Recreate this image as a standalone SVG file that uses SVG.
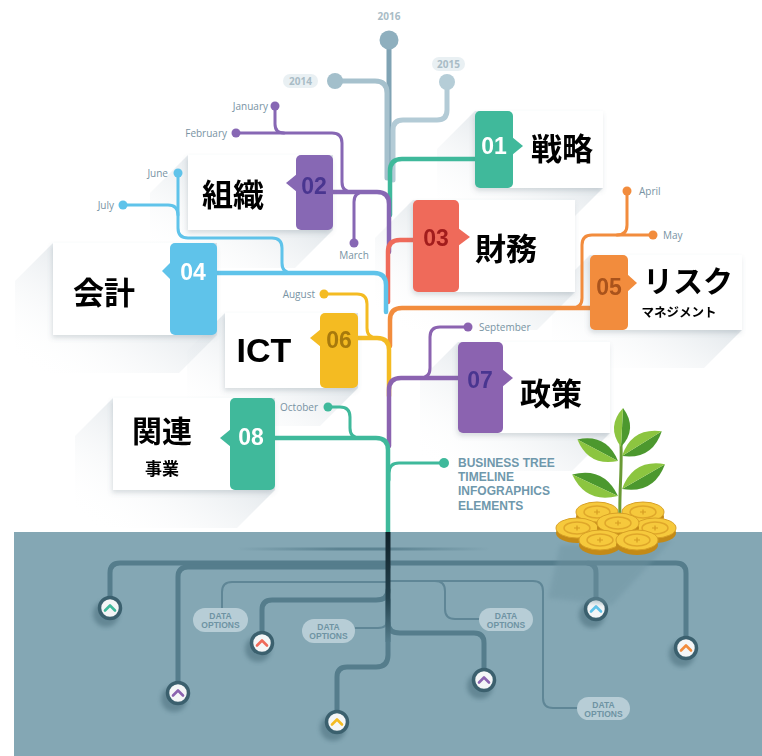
<svg xmlns="http://www.w3.org/2000/svg" width="762" height="756" viewBox="0 0 762 756">
  <defs>
    <style>
      .br{fill:none;stroke-width:4.5;stroke-linecap:round;stroke-linejoin:round}
      .tw{fill:none;stroke-width:3;stroke-linecap:round;stroke-linejoin:round}
      .yr{fill:none;stroke-width:5;stroke-linecap:round;stroke-linejoin:round}
      .mo{font-family:"Open Sans","Liberation Sans",sans-serif;font-size:10px;fill:#7893a3}
      .yl{font-family:"Open Sans","Liberation Sans",sans-serif;font-size:10px;font-weight:700;fill:#a9bcc6;text-anchor:middle}
      .num{font-family:"Liberation Sans",sans-serif;font-size:23px;font-weight:700;text-anchor:middle}
      .jp{font-family:"Noto Sans CJK JP","Noto Sans CJK SC",sans-serif;font-weight:700;fill:#000;text-anchor:middle}
      .card{fill:#fff}
      .shade{fill:url(#cardShade)}
      .rt{fill:none;stroke:#557d8c;stroke-width:5;stroke-linecap:round;stroke-linejoin:round}
      .rtt{fill:none;stroke:#5f8696;stroke-width:2}
      .pill{fill:#b7cdd6}
      .pt{font-family:"Liberation Sans",sans-serif;font-size:8.5px;font-weight:700;fill:#6e93a3;text-anchor:middle}
      .knob{fill:#f4f6f7;stroke:#3b606e;stroke-width:3.5}
      .kshadow{fill:#3e6270;opacity:.45;filter:url(#soft)}
      .chev{fill:none;stroke-width:2.6;stroke-linecap:round;stroke-linejoin:round}
      .bt{font-family:"Liberation Sans",sans-serif;font-size:12px;font-weight:700;fill:#6f98ac}
    </style>
    <linearGradient id="cardShade" x1="0.7" y1="0.3" x2="0.05" y2="0.95">
      <stop offset="0" stop-color="#ccd5dc" stop-opacity="0.65"/>
      <stop offset="1" stop-color="#ffffff" stop-opacity="0"/>
    </linearGradient>
    <linearGradient id="deepTrunk" x1="0" y1="0" x2="0" y2="1">
      <stop offset="0" stop-color="#0f2028"/>
      <stop offset="0.6" stop-color="#24434f"/>
      <stop offset="1" stop-color="#557d8c"/>
    </linearGradient>
    <linearGradient id="fadeLine" x1="0" y1="0" x2="1" y2="0">
      <stop offset="0" stop-color="#587f8e" stop-opacity="0"/>
      <stop offset="0.4" stop-color="#587f8e" stop-opacity="0.9"/>
      <stop offset="0.6" stop-color="#587f8e" stop-opacity="0.9"/>
      <stop offset="1" stop-color="#587f8e" stop-opacity="0"/>
    </linearGradient>
    <filter id="soft" x="-50%" y="-50%" width="200%" height="200%">
      <feGaussianBlur stdDeviation="2"/>
    </filter>
    <filter id="lift" x="-20%" y="-20%" width="140%" height="150%">
      <feDropShadow dx="-1" dy="3" stdDeviation="2.5" flood-color="#5a6e7a" flood-opacity="0.22"/>
    </filter>
    <g id="leaf">
      <path d="M0,0 Q23,19 46,0 Z" fill="#4c982e"/>
      <path d="M0,0 Q23,-19 46,0 Z" fill="#8cc540"/>
    </g>
    <g id="coin">
      <ellipse cx="0" cy="5" rx="21" ry="10" fill="#c38a17"/>
      <ellipse cx="0" cy="0" rx="21" ry="10" fill="#f6c93c" stroke="#d8a126" stroke-width="1"/>
      <ellipse cx="0" cy="0" rx="13" ry="6" fill="none" stroke="#dfa72a" stroke-width="1.4"/>
      <path d="M-3,0 H3 M0,-2.5 V2.5" stroke="#d69d22" stroke-width="1.2"/>
    </g>
  </defs>

  <!-- page and ground -->
  <rect width="762" height="756" fill="#ffffff"/>
  <rect x="14" y="532" width="748" height="224" fill="#84a7b4"/>

  <!-- long card shadows -->
  <g id="shadows">
    <polygon class="shade" points="475,111 603,111 603,188 565,226 437,226 437,149"/>
    <polygon class="shade" points="188,155 333,155 333,230 295,268 150,268 150,193"/>
    <polygon class="shade" points="413,200 575,200 575,292 537,330 375,330 375,238"/>
    <polygon class="shade" points="53,243 217,243 217,335 179,373 15,373 15,281"/>
    <polygon class="shade" points="590,255 742,255 742,330 704,368 552,368 552,293"/>
    <polygon class="shade" points="225,313 358,313 358,388 320,426 187,426 187,351"/>
    <polygon class="shade" points="458,342 610,342 610,433 572,471 420,471 420,380"/>
    <polygon class="shade" points="113,398 275,398 275,490 237,528 75,528 75,436"/>
  </g>

  <!-- tree connectors -->
  <g id="connectors">
    <!-- years -->
    <path class="yr" stroke="#80a3b4" d="M389,40 V178"/>
    <path class="yr" stroke="#a6c1cd" d="M335,81 H375 Q387,81 387,93 V178"/>
    <path class="yr" stroke="#b3cbd6" d="M447,82 V110 Q447,120 437,120 H403 Q393,120 393,130 V180"/>
    <!-- 01 -->
    <path class="br" stroke="#3fb99b" d="M476,159 H402 Q390,159 390,171 V215"/>
    <!-- 02 and its months -->
    <path class="tw" stroke="#8767b4" d="M236,133 H332 Q342,133 342,143 V182 Q342,192 352,192"/>
    <path class="tw" stroke="#8767b4" d="M275,106 V124 Q275,133 284,133"/>
    <path class="tw" stroke="#8767b4" d="M354,243 V202 Q354,192 364,192"/>
    <path class="br" stroke="#8767b4" d="M333,192 H377 Q389,192 389,204 V252"/>
    <!-- 03 -->
    <path class="br" stroke="#ef6a5a" d="M413,240 H400 Q388,240 388,252 V302"/>
    <!-- 04 and its months -->
    <path class="tw" stroke="#5fc3ea" d="M178,173 V228 Q178,238 188,238 H272 Q282,238 282,248 V263 Q282,273 292,273"/>
    <path class="tw" stroke="#5fc3ea" d="M123,205 H168 Q178,205 178,215"/>
    <path class="br" stroke="#5fc3ea" d="M217,273 H374 Q386,273 386,285 V312"/>
    <!-- 05 and its months -->
    <path class="tw" stroke="#f28c3d" d="M653,235 H592 Q582,235 582,245 V298 Q582,308 572,308"/>
    <path class="tw" stroke="#f28c3d" d="M627,191 V225 Q627,235 617,235"/>
    <path class="br" stroke="#f28c3d" d="M590,308 H402 Q390,308 390,320 V346"/>
    <!-- 06 and its month -->
    <path class="tw" stroke="#f4bb22" d="M324,294 H357 Q367,294 367,304 V328 Q367,338 377,338"/>
    <path class="br" stroke="#f4bb22" d="M358,338 H377 Q389,338 389,350 V396"/>
    <!-- 07 and its month -->
    <path class="tw" stroke="#8b63b0" d="M468,327 H440 Q430,327 430,337 V368 Q430,378 420,378"/>
    <path class="br" stroke="#8b63b0" d="M458,378 H401 Q389,378 389,390 V446"/>
    <!-- 08 and its month -->
    <path class="tw" stroke="#3fb99b" d="M328,407 H340 Q350,407 350,417 V428 Q350,438 360,438"/>
    <path class="br" stroke="#3fb99b" d="M275,438 H376 Q388,438 388,450 V533"/>
    <path class="tw" stroke="#3fb99b" d="M389,480 V473 Q389,463 399,463 H444"/>

    <!-- month / year end dots -->
    <circle cx="389" cy="40" r="9.5" fill="#8eafbe"/>
    <circle cx="335" cy="81" r="8" fill="#a3bfcb"/>
    <circle cx="447" cy="82" r="8" fill="#b5cdd7"/>
    <g fill="#8767b4">
      <circle cx="275" cy="106" r="4.5"/>
      <circle cx="236" cy="133" r="4.5"/>
      <circle cx="354" cy="243" r="4.5"/>
    </g>
    <g fill="#5fc3ea">
      <circle cx="178" cy="173" r="4.5"/>
      <circle cx="123" cy="205" r="4.5"/>
    </g>
    <g fill="#f28c3d">
      <circle cx="627" cy="191" r="4.5"/>
      <circle cx="653" cy="235" r="4.5"/>
    </g>
    <circle cx="324" cy="294" r="4.5" fill="#f4bb22"/>
    <circle cx="468" cy="327" r="4.5" fill="#8b63b0"/>
    <circle cx="328" cy="407" r="4.5" fill="#3fb99b"/>
    <circle cx="444" cy="463" r="5" fill="#3fb99b"/>
  </g>

  <!-- year and month labels -->
  <g id="labels">
    <text class="yl" x="389" y="16" dominant-baseline="central">2016</text>
    <rect x="283" y="74" width="35" height="14" rx="7" fill="#e9f0f3"/>
    <text class="yl" x="300.5" y="81" dominant-baseline="central">2014</text>
    <rect x="432" y="57" width="33" height="14" rx="7" fill="#e9f0f3"/>
    <text class="yl" x="448.5" y="64" dominant-baseline="central">2015</text>
    <text class="mo" x="268" y="106" text-anchor="end" dominant-baseline="central">January</text>
    <text class="mo" x="227" y="133" text-anchor="end" dominant-baseline="central">February</text>
    <text class="mo" x="354" y="255" text-anchor="middle" dominant-baseline="central">March</text>
    <text class="mo" x="639" y="191" dominant-baseline="central">April</text>
    <text class="mo" x="663" y="235" dominant-baseline="central">May</text>
    <text class="mo" x="168" y="173" text-anchor="end" dominant-baseline="central">June</text>
    <text class="mo" x="114" y="205" text-anchor="end" dominant-baseline="central">July</text>
    <text class="mo" x="315" y="294" text-anchor="end" dominant-baseline="central">August</text>
    <text class="mo" x="479" y="327" dominant-baseline="central">September</text>
    <text class="mo" x="318" y="407" text-anchor="end" dominant-baseline="central">October</text>
    <text class="bt" x="458" y="463" dominant-baseline="central">BUSINESS TREE</text>
    <text class="bt" x="458" y="477" dominant-baseline="central">TIMELINE</text>
    <text class="bt" x="458" y="491" dominant-baseline="central">INFOGRAPHICS</text>
    <text class="bt" x="458" y="506" dominant-baseline="central">ELEMENTS</text>
  </g>

  <!-- cards -->
  <g id="node-01" filter="url(#lift)">
    <rect class="card" x="505" y="111" width="98" height="77"/>
    <rect x="475" y="111" width="38" height="77" rx="5" fill="#3fb99b"/>
    <polygon points="512,137 523,146 512,155" fill="#3fb99b"/>
    <text class="num" x="494" y="146" fill="#ffffff" dominant-baseline="central">01</text>
    <text class="jp" x="562" y="146" font-size="31" dominant-baseline="central">戦略</text>
  </g>
  <g id="node-02" filter="url(#lift)">
    <rect class="card" x="188" y="155" width="116" height="75"/>
    <rect x="296" y="155" width="37" height="75" rx="5" fill="#8767b4"/>
    <polygon points="297,174 286,183 297,192" fill="#8767b4"/>
    <text class="num" x="314" y="186" fill="#4a3690" dominant-baseline="central">02</text>
    <text class="jp" x="233" y="192" font-size="31" dominant-baseline="central">組織</text>
  </g>
  <g id="node-03" filter="url(#lift)">
    <rect class="card" x="450" y="200" width="125" height="92"/>
    <rect x="413" y="200" width="46" height="92" rx="5" fill="#ef6a5a"/>
    <polygon points="458,228 470,237 458,246" fill="#ef6a5a"/>
    <text class="num" x="436" y="238" fill="#a21e1e" dominant-baseline="central">03</text>
    <text class="jp" x="506" y="246" font-size="31" dominant-baseline="central">財務</text>
  </g>
  <g id="node-04" filter="url(#lift)">
    <rect class="card" x="53" y="243" width="126" height="92"/>
    <rect x="170" y="243" width="47" height="92" rx="5" fill="#5fc3ea"/>
    <polygon points="171,262 162,271 171,280" fill="#5fc3ea"/>
    <text class="num" x="193" y="272" fill="#ffffff" dominant-baseline="central">04</text>
    <text class="jp" x="104" y="290" font-size="31" dominant-baseline="central">会計</text>
  </g>
  <g id="node-05" filter="url(#lift)">
    <rect class="card" x="620" y="255" width="122" height="75"/>
    <rect x="590" y="255" width="38" height="75" rx="5" fill="#f28c3d"/>
    <polygon points="627,274 637,283 627,292" fill="#f28c3d"/>
    <text class="num" x="609" y="287" fill="#a9521b" dominant-baseline="central">05</text>
    <text class="jp" x="688" y="279" font-size="30" dominant-baseline="central">リスク</text>
    <text class="jp" x="679" y="311" font-size="12.5" dominant-baseline="central">マネジメント</text>
  </g>
  <g id="node-06" filter="url(#lift)">
    <rect class="card" x="225" y="313" width="104" height="75"/>
    <rect x="320" y="313" width="38" height="75" rx="5" fill="#f4bb22"/>
    <polygon points="321,329 310,338 321,347" fill="#f4bb22"/>
    <text class="num" x="339" y="340" fill="#a7790c" dominant-baseline="central">06</text>
    <text x="264" y="350" font-family="Liberation Sans, Arial, sans-serif" font-size="34" font-weight="700" fill="#000" text-anchor="middle" dominant-baseline="central">ICT</text>
  </g>
  <g id="node-07" filter="url(#lift)">
    <rect class="card" x="494" y="342" width="116" height="91"/>
    <rect x="458" y="342" width="45" height="91" rx="5" fill="#8b63b0"/>
    <polygon points="502,369 513,378 502,387" fill="#8b63b0"/>
    <text class="num" x="480" y="380" fill="#4a3690" dominant-baseline="central">07</text>
    <text class="jp" x="551" y="391" font-size="31" dominant-baseline="central">政策</text>
  </g>
  <g id="node-08" filter="url(#lift)">
    <rect class="card" x="113" y="398" width="126" height="92"/>
    <rect x="230" y="398" width="45" height="92" rx="5" fill="#3fb99b"/>
    <polygon points="231,429 220,438 231,447" fill="#3fb99b"/>
    <text class="num" x="251" y="437" fill="#ffffff" dominant-baseline="central">08</text>
    <text class="jp" x="162" y="429" font-size="30" dominant-baseline="central">関連</text>
    <text class="jp" x="162" y="467" font-size="17" dominant-baseline="central">事業</text>
  </g>

  <!-- roots under the ground line -->
  <g id="roots">
    <rect x="237" y="547.5" width="253" height="3" fill="url(#fadeLine)"/>
    <path class="rt" d="M388,563 H120 Q110,563 110,573 V598"/>
    <path class="rt" d="M388,567 H188 Q178,567 178,577 V683"/>
    <path class="rtt" d="M388,582 H232 Q222,582 222,592 V609"/>
    <path class="rt" d="M388,590 Q388,600 376,600 H272 Q262,600 262,610 V633"/>
    <path class="rtt" d="M388,618 Q388,628 378,628 H355"/>
    <path class="rt" d="M388,563 H586 Q596,563 596,573 V599"/>
    <path class="rt" d="M588,563 H676 Q686,563 686,573 V638"/>
    <path class="rtt" d="M388,581 H435 Q445,581 445,591 V609 Q445,619 455,619 H480"/>
    <path class="rtt" d="M435,581 H533 Q543,581 543,591 V698 Q543,708 553,708 H578"/>
    <path class="rt" d="M388,623 Q388,633 400,633 H474 Q484,633 484,643 V670"/>
    <path class="rt" d="M388,600 V655 Q388,667 376,667 H347 Q337,667 337,677 V712"/>
    <rect x="385.5" y="532" width="5" height="110" fill="url(#deepTrunk)"/>
  </g>

  <!-- data option tags -->
  <g id="data-options">
    <rect class="pill" x="193" y="608" width="55" height="24" rx="12"/>
    <text class="pt" x="220.5" y="616" dominant-baseline="central">DATA</text>
    <text class="pt" x="220.5" y="625" dominant-baseline="central">OPTIONS</text>
    <rect class="pill" x="302" y="619" width="53" height="24" rx="12"/>
    <text class="pt" x="328.5" y="627" dominant-baseline="central">DATA</text>
    <text class="pt" x="328.5" y="636" dominant-baseline="central">OPTIONS</text>
    <rect class="pill" x="479" y="608" width="54" height="23" rx="11.5"/>
    <text class="pt" x="506" y="615.5" dominant-baseline="central">DATA</text>
    <text class="pt" x="506" y="624.5" dominant-baseline="central">OPTIONS</text>
    <rect class="pill" x="577" y="697" width="53" height="23" rx="11.5"/>
    <text class="pt" x="603.5" y="704.5" dominant-baseline="central">DATA</text>
    <text class="pt" x="603.5" y="713.5" dominant-baseline="central">OPTIONS</text>
  </g>

  <!-- root end buttons -->
  <g id="knobs">
    <circle class="kshadow" cx="106" cy="614" r="13"/>
    <circle class="knob" cx="110" cy="608" r="10.5"/>
    <polyline class="chev" stroke="#3fb99b" points="105,610.5 110,605.5 115,610.5"/>
    <circle class="kshadow" cx="258" cy="649" r="13"/>
    <circle class="knob" cx="262" cy="643" r="10.5"/>
    <polyline class="chev" stroke="#ef6a5a" points="257,645.5 262,640.5 267,645.5"/>
    <circle class="kshadow" cx="174" cy="699" r="13"/>
    <circle class="knob" cx="178" cy="693" r="10.5"/>
    <polyline class="chev" stroke="#8b63b0" points="173,695.5 178,690.5 183,695.5"/>
    <circle class="kshadow" cx="333" cy="728" r="13"/>
    <circle class="knob" cx="337" cy="722" r="10.5"/>
    <polyline class="chev" stroke="#f4bb22" points="332,724.5 337,719.5 342,724.5"/>
    <circle class="kshadow" cx="480" cy="686" r="13"/>
    <circle class="knob" cx="484" cy="680" r="10.5"/>
    <polyline class="chev" stroke="#8b63b0" points="479,682.5 484,677.5 489,682.5"/>
    <circle class="kshadow" cx="592" cy="615" r="13"/>
    <circle class="knob" cx="596" cy="609" r="10.5"/>
    <polyline class="chev" stroke="#5fc3ea" points="591,611.5 596,606.5 601,611.5"/>
    <circle class="kshadow" cx="682" cy="654" r="13"/>
    <circle class="knob" cx="686" cy="648" r="10.5"/>
    <polyline class="chev" stroke="#f28c3d" points="681,650.5 686,645.5 691,650.5"/>
  </g>

  <!-- sprout on a pile of coins -->
  <g id="money-plant">
    <polygon points="560,545 672,540 612,605 548,598" fill="#6f94a2" opacity="0.45" filter="url(#soft)"/>
    <use href="#coin" x="597" y="512"/>
    <use href="#coin" x="643" y="512"/>
    <path d="M620,518 C619,495 622,470 621,445" fill="none" stroke="#6a9a35" stroke-width="3" stroke-linecap="round"/>
    <use href="#leaf" transform="translate(621,447) rotate(-87) scale(0.85)"/>
    <use href="#leaf" transform="translate(618,461) rotate(208) scale(1.0)"/>
    <use href="#leaf" transform="translate(622,456) rotate(-32) scale(1.02)"/>
    <use href="#leaf" transform="translate(618,496) rotate(205) scale(1.1)"/>
    <use href="#leaf" transform="translate(622,489) rotate(-30) scale(1.08)"/>
    <use href="#coin" x="577" y="528"/>
    <use href="#coin" x="655" y="528"/>
    <use href="#coin" x="618" y="523"/>
    <use href="#coin" x="600" y="540"/>
    <use href="#coin" x="637" y="540"/>
  </g>
</svg>
